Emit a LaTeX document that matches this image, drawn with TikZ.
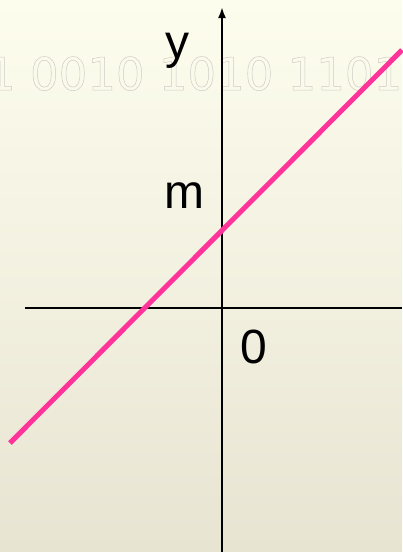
\documentclass[tikz,border=0pt]{standalone}
\usepackage{fontspec}
\setmainfont{Liberation Sans}
\newfontfamily\bitfont{DejaVu Sans}
\usepackage{xcolor}
\definecolor{bgtop}{RGB}{253,253,238}
\definecolor{bgbot}{RGB}{232,228,210}
\definecolor{linepink}{RGB}{255,51,153}
\usetikzlibrary{arrows.meta}
% outlined text through the driver
\newcommand{\outlinetext}[1]{%
  \special{pdf:literal direct 1 Tr 0.5 w 0.8 0.8 0.78 RG}#1\special{pdf:literal direct 0 Tr}}

\begin{document}
\begin{tikzpicture}[x=1pt,y=-1pt,
  axis/.style={line width=2pt,black},
  lbl/.style={font=\fontsize{48}{48}\selectfont,inner sep=0pt,anchor=base west}]
  \useasboundingbox (0,0) rectangle (402,552);
  \fill[top color=bgtop,bottom color=bgbot] (0,0) rectangle (402,552);
  % binary watermark
  \begin{scope}
    \clip (0,0) rectangle (402,552);
    \node[inner sep=0pt,anchor=base west,font=\bitfont\fontsize{45}{45}\selectfont] (bits) at (-13,90)
      {\outlinetext{1 0010 1010 1101}};
  \end{scope}
  % axes
  \coordinate (o) at (222,308);
  \coordinate (ytop) at (222,7);
  \coordinate (ybot) at (222,552);
  \coordinate (xl) at (25,308);
  \coordinate (xr) at (402,308);
  \draw[axis] (xl) -- (xr);
  \draw[axis,-{Latex[length=11pt,width=8pt]}] (ybot) -- (ytop);
  % line
  \coordinate (p) at (10,443);
  \coordinate (q) at (402,50);
  \draw[linepink,line width=5pt] (p) -- (q);
  \node[lbl] (ylab) at (165,58) {y};
  \node[lbl] (mlab) at (164,208) {m};
  \node[lbl] (zero) at (240,363) {0};
\end{tikzpicture}
\end{document}
